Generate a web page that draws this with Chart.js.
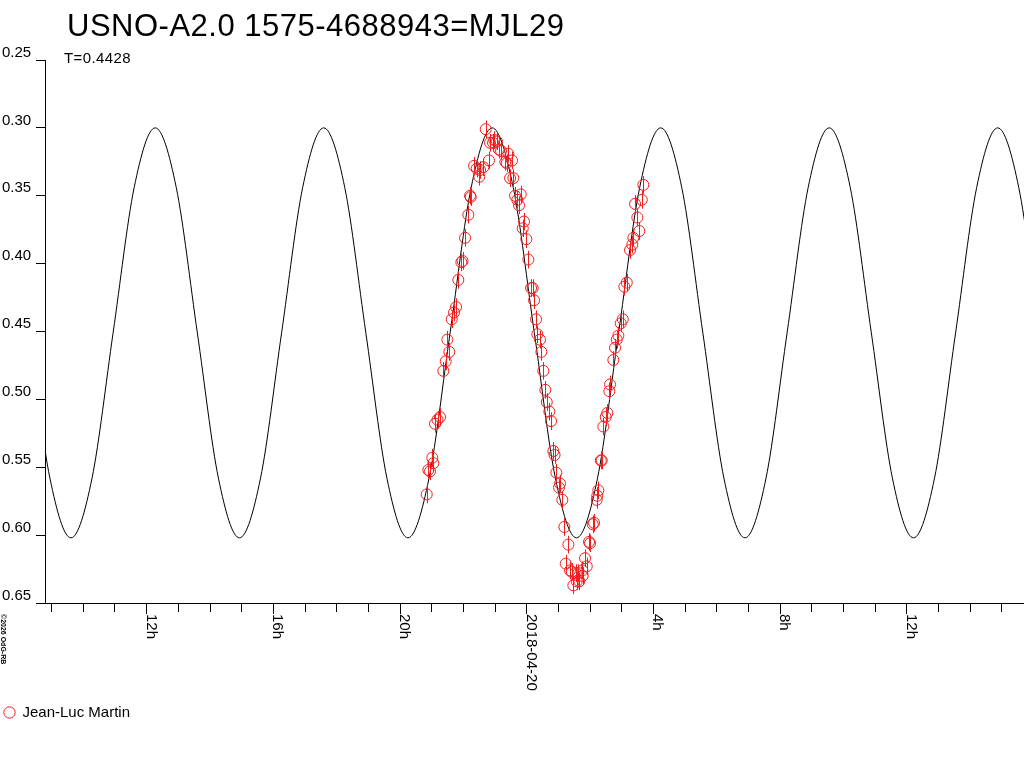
<!DOCTYPE html>
<html><head><meta charset="utf-8">
<script src="https://cdn.jsdelivr.net/npm/chart.js@4/dist/chart.umd.min.js"></script>
<style>html,body{margin:0;padding:0;background:#fff;overflow:hidden}#wrap{width:1024px;height:768px;position:relative}</style>
</head><body><div id="wrap"><canvas id="c" width="1024" height="768"></canvas></div>
<script>
const FONT = "'Liberation Sans', Arial, sans-serif";
const RED = 'rgb(240,30,30)';
const TITLE = 'USNO-A2.0 1575-4688943=MJL29';
const SUBTITLE = 'T=0.4428';
const OBSERVER = 'Jean-Luc Martin';
const COPYRIGHT = '\u00A92026 OdG-RB';

// observations: hours relative to 2018-04-20 00:00, magnitude
const obsHours = [-3.158,-3.107,-3.053,-2.981,-2.949,-2.896,-2.817,-2.738,-2.633,-2.558,-2.507,-2.444,-2.368,-2.296,-2.232,-2.160,-2.065,-2.027,-1.948,-1.844,-1.790,-1.768,-1.664,-1.579,-1.497,-1.475,-1.370,-1.295,-1.190,-1.159,-1.064,-1.023,-0.938,-0.875,-0.811,-0.676,-0.632,-0.581,-0.527,-0.464,-0.423,-0.369,-0.297,-0.243,-0.189,-0.126,-0.085,-0.013,0.051,0.136,0.189,0.231,0.294,0.335,0.420,0.461,0.524,0.587,0.632,0.714,0.767,0.840,0.878,0.935,1.020,1.051,1.124,1.187,1.231,1.314,1.367,1.421,1.471,1.547,1.579,1.629,1.661,1.756,1.768,1.841,1.895,1.967,1.999,2.084,2.125,2.210,2.226,2.261,2.337,2.368,2.419,2.494,2.545,2.608,2.630,2.734,2.788,2.842,2.892,2.968,3.031,3.082,3.158,3.262,3.334,3.366,3.420,3.492,3.555,3.631,3.682];
const obsMag = [0.570,0.552,0.553,0.543,0.547,0.518,0.515,0.513,0.479,0.472,0.456,0.465,0.441,0.436,0.432,0.412,0.399,0.398,0.381,0.364,0.350,0.351,0.328,0.330,0.336,0.331,0.329,0.301,0.324,0.311,0.311,0.309,0.310,0.316,0.317,0.325,0.326,0.319,0.337,0.324,0.337,0.350,0.353,0.357,0.349,0.374,0.369,0.382,0.397,0.418,0.418,0.427,0.441,0.452,0.456,0.465,0.479,0.493,0.502,0.509,0.516,0.538,0.541,0.554,0.565,0.562,0.574,0.594,0.621,0.607,0.626,0.627,0.637,0.628,0.634,0.628,0.634,0.626,0.630,0.617,0.623,0.605,0.606,0.592,0.591,0.574,0.571,0.567,0.545,0.545,0.520,0.513,0.510,0.494,0.489,0.471,0.462,0.456,0.453,0.444,0.441,0.417,0.414,0.390,0.386,0.381,0.356,0.366,0.376,0.353,0.342];
const obsErr = 0.0065;

// fitted light curve (at 1/8-cycle steps)
const fitHours = [-17.05,-16.385,-15.72,-15.055,-14.39,-13.725,-13.06,-12.395,-11.73,-11.065,-10.40,-9.735,-9.07,-8.405,-7.74,-7.075,-6.41,-5.745,-5.08,-4.415,-3.75,-3.085,-2.42,-1.755,-1.09,-0.425,0.24,0.905,1.57,2.235,2.90,3.565,4.23,4.895,5.56,6.225,6.89,7.555,8.22,8.885,9.55,10.215,10.88,11.545,12.21,12.875,13.54,14.205,14.87,15.535,16.20];
const fitMag = [0.300,0.344,0.451,0.558,0.602,0.558,0.451,0.344,0.300,0.344,0.451,0.558,0.602,0.558,0.451,0.344,0.300,0.344,0.451,0.558,0.602,0.558,0.451,0.344,0.300,0.344,0.451,0.558,0.602,0.558,0.451,0.344,0.300,0.344,0.451,0.558,0.602,0.558,0.451,0.344,0.300,0.344,0.451,0.558,0.602,0.558,0.451,0.344,0.300,0.344,0.451];

const yTicks = [0.25,0.30,0.35,0.40,0.45,0.50,0.55,0.60,0.65];
const xTickHours = [-15,-14,-13,-12,-11,-10,-9,-8,-7,-6,-5,-4,-3,-2,-1,0,1,2,3,4,5,6,7,8,9,10,11,12,13,14,15];
const majorTickHours = [-12,-8,-4,0,4,8,12];
const majorTickLabels = ['12h','16h','20h','2018-04-20','4h','8h','12h'];
const xMin = -15.21, xMax = 15.70, yMin = 0.25, yMax = 0.65;

const decor = {
  id: 'decor',
  afterDatasetsDraw(chart) {
    const {ctx, chartArea, scales: {x, y}} = chart;
    ctx.save();
    ctx.beginPath();
    ctx.rect(chartArea.left, chartArea.top, chartArea.right - chartArea.left, chartArea.bottom - chartArea.top);
    ctx.clip();
    ctx.strokeStyle = RED;
    ctx.lineWidth = 1;
    ctx.beginPath();
    obsHours.forEach((h, i) => {
      const px = Math.round(x.getPixelForValue(h)) + 0.5;
      ctx.moveTo(px, y.getPixelForValue(obsMag[i] - obsErr));
      ctx.lineTo(px, y.getPixelForValue(obsMag[i] + obsErr));
    });
    ctx.stroke();
    ctx.restore();
  },
  afterDraw(chart) {
    const {ctx, scales: {x}} = chart;
    ctx.save();
    ctx.fillStyle = '#000';
    ctx.textAlign = 'left';
    ctx.textBaseline = 'alphabetic';
    ctx.font = '31px ' + FONT;
    try { ctx.letterSpacing = '0.5px'; } catch (e) {}
    ctx.fillText(TITLE, 67, 36);
    ctx.font = '15px ' + FONT;
    try { ctx.letterSpacing = '0.4px'; } catch (e) {}
    ctx.fillText(SUBTITLE, 64, 63);
    try { ctx.letterSpacing = '0px'; } catch (e) {}
    ctx.font = '15px ' + FONT;
    majorTickHours.forEach((h, i) => {
      const px = x.getPixelForValue(h);
      ctx.save();
      ctx.translate(px, 614);
      ctx.rotate(Math.PI / 2);
      ctx.fillText(majorTickLabels[i], 0, 0);
      ctx.restore();
    });
    ctx.save();
    ctx.font = 'bold 7px ' + FONT;
    ctx.translate(1, 614);
    ctx.rotate(Math.PI / 2);
    ctx.fillText(COPYRIGHT, 0, 0);
    ctx.restore();
    ctx.restore();
  }
};

new Chart(document.getElementById('c'), {
  type: 'scatter',
  data: {
    datasets: [
      {
        label: OBSERVER,
        data: obsHours.map((h, i) => ({x: h, y: obsMag[i]})),
        pointStyle: 'circle',
        pointRadius: 5.5,
        pointBorderWidth: 1,
        borderWidth: 1,
        borderColor: RED,
        backgroundColor: 'rgba(0,0,0,0)',
        showLine: false,
        order: 0
      },
      {
        label: 'fit',
        data: fitHours.map((h, i) => ({x: h, y: fitMag[i]})),
        showLine: true,
        borderColor: '#000',
        borderWidth: 1,
        pointRadius: 0,
        cubicInterpolationMode: 'monotone',
        fill: false,
        order: 1
      }
    ]
  },
  options: {
    responsive: false,
    animation: false,
    devicePixelRatio: 1,
    layout: {autoPadding: false, padding: {top: 60, left: 2, right: 0, bottom: 38}},
    plugins: {
      legend: {
        position: 'bottom',
        align: 'start',
        labels: {
          filter: item => item.datasetIndex === 0,
          usePointStyle: true,
          boxWidth: 11,
          boxHeight: 8,
          padding: 2,
          color: '#000',
          font: {family: FONT, size: 15}
        }
      },
      tooltip: {enabled: false},
      title: {display: false}
    },
    scales: {
      x: {
        type: 'linear',
        min: xMin,
        max: xMax,
        afterBuildTicks: s => { s.ticks = xTickHours.map(v => ({value: v})); },
        afterFit: s => { s.height = 100; s.paddingLeft = 0; s.paddingRight = 0; },
        border: {display: true, color: '#000', width: 1},
        grid: {
          drawOnChartArea: false,
          drawTicks: true,
          tickLength: 11,
          tickColor: '#000',
          tickWidth: 1,
          tickBorderDash: c => (c.tick && majorTickHours.includes(c.tick.value)) ? [] : [8, 40]
        },
        ticks: {display: false, autoSkip: false}
      },
      y: {
        type: 'linear',
        reverse: true,
        min: yMin,
        max: yMax,
        afterBuildTicks: s => { s.ticks = yTicks.map(v => ({value: v})); },
        afterFit: s => { s.width = 43; },
        border: {display: true, color: '#000', width: 1},
        grid: {drawOnChartArea: false, drawTicks: true, tickLength: 9, tickColor: '#000', tickWidth: 1},
        ticks: {
          crossAlign: 'far',
          padding: 0,
          autoSkip: false,
          color: '#000',
          font: {family: FONT, size: 15, lineHeight: 1},
          callback: v => [Number(v).toFixed(2), '']
        }
      }
    }
  },
  plugins: [decor]
});
</script>
</body></html>
